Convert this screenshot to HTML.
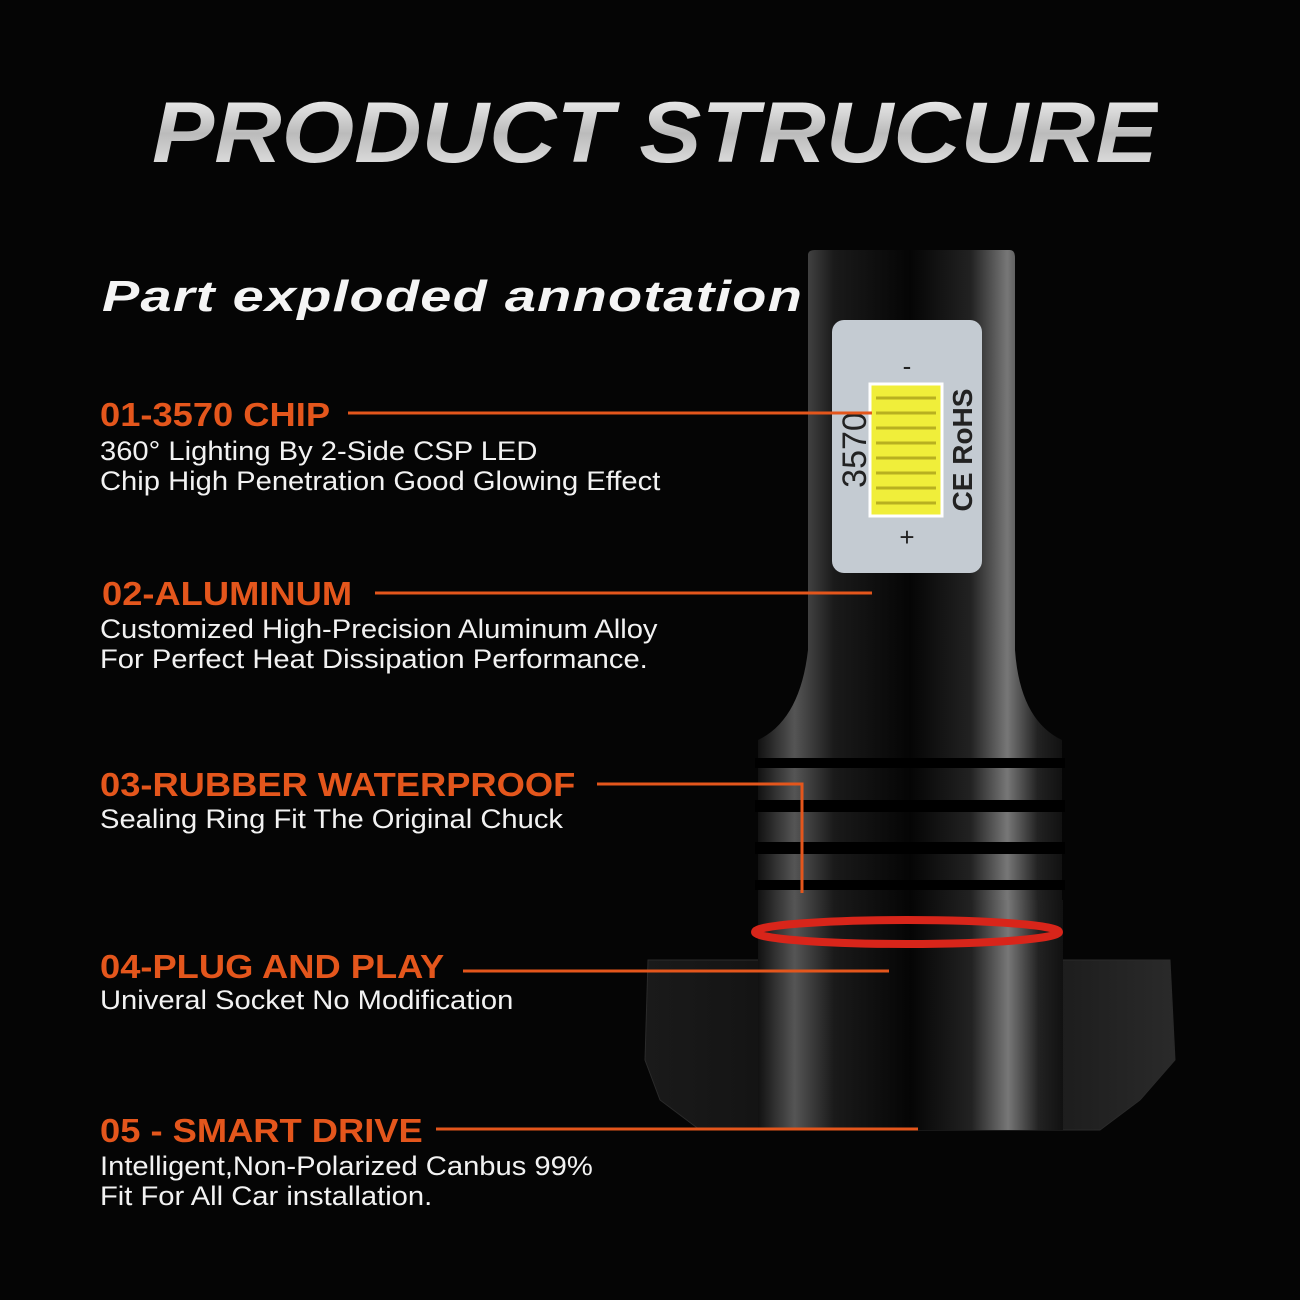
<!DOCTYPE html>
<html><head><meta charset="utf-8"><style>
html,body{margin:0;padding:0;background:#050505;}
body{width:1300px;height:1300px;overflow:hidden;position:relative;font-family:"Liberation Sans",sans-serif;}
.t{position:absolute;white-space:nowrap;transform-origin:left;}
.title{left:152px;top:84px;font-size:86px;font-weight:900;font-style:italic;color:#d8d8d8;letter-spacing:0px;transform:scaleX(1.085);background:linear-gradient(#ffffff,#bbbbbb 50%,#f0f0f0);-webkit-background-clip:text;background-clip:text;-webkit-text-fill-color:transparent;}
.sub{left:102px;top:272px;font-size:44px;font-weight:900;font-style:italic;color:#f4f4f4;transform:scaleX(1.27);letter-spacing:1px;}
.h{color:#e4561c;font-weight:bold;font-size:33px;left:100px;transform:scaleX(1.1);}
.d{color:#f2f2f2;font-size:27px;left:100px;line-height:30px;transform:scaleX(1.08);}
</style></head><body>
<svg width="1300" height="1300" style="position:absolute;left:0;top:0">
<defs>
<linearGradient id="m" x1="0" x2="1">
<stop offset="0" stop-color="#111"/><stop offset=".12" stop-color="#555"/><stop offset=".25" stop-color="#1a1a1a"/><stop offset=".5" stop-color="#050505"/><stop offset=".7" stop-color="#222"/><stop offset=".82" stop-color="#777"/><stop offset=".92" stop-color="#222"/><stop offset="1" stop-color="#111"/>
</linearGradient>
<linearGradient id="b" x1="0" x2="1">
<stop offset="0" stop-color="#1a1a1a"/><stop offset=".5" stop-color="#0c0c0c"/><stop offset="1" stop-color="#2a2a2a"/>
</linearGradient>
</defs>
<path d="M648 960 L1170 960 L1175 1060 L1140 1100 L1100 1130 L700 1130 L660 1100 L645 1060 Z" fill="url(#b)" stroke="#2a2a2a"/>
<rect x="758" y="900" width="305" height="230" fill="url(#m)"/>
<path d="M808 255 Q808 250 815 250 L1010 250 Q1015 250 1015 258 L1015 650 Q1020 720 1062 740 L1062 900 L758 900 L758 740 Q800 720 808 650 Z" fill="url(#m)"/>
<g fill="#000">
<rect x="755" y="758" width="310" height="10"/>
<rect x="755" y="800" width="310" height="12"/>
<rect x="755" y="842" width="310" height="12"/>
<rect x="755" y="880" width="310" height="10"/>
</g>
<ellipse cx="907" cy="932" rx="152" ry="12" fill="none" stroke="#d8251a" stroke-width="8"/>
<rect x="832" y="320" width="150" height="253" rx="12" fill="#c4cbd2"/>
<rect x="870" y="384" width="72" height="132" fill="#f0ee3a" stroke="#fff" stroke-width="3"/>
<g stroke="#b8b020" stroke-width="3">
<line x1="876" y1="398" x2="936" y2="398"/><line x1="876" y1="413" x2="936" y2="413"/><line x1="876" y1="428" x2="936" y2="428"/><line x1="876" y1="443" x2="936" y2="443"/><line x1="876" y1="458" x2="936" y2="458"/><line x1="876" y1="473" x2="936" y2="473"/><line x1="876" y1="488" x2="936" y2="488"/><line x1="876" y1="503" x2="936" y2="503"/>
</g>
<text transform="translate(866,450) rotate(-90)" text-anchor="middle" font-family="Liberation Sans" font-size="34" fill="#222">3570</text>
<text transform="translate(972,450) rotate(-90)" text-anchor="middle" font-family="Liberation Sans" font-size="28" font-weight="bold" fill="#222">CE RoHS</text>
<text x="907" y="375" text-anchor="middle" font-size="26" fill="#222">-</text>
<text x="907" y="546" text-anchor="middle" font-size="26" fill="#222">+</text>
<g stroke="#e4561c" stroke-width="3" fill="none">
<line x1="348" y1="413" x2="872" y2="413"/>
<line x1="375" y1="593" x2="872" y2="593"/>
<polyline points="597,784 802,784 802,893"/>
<line x1="463" y1="971" x2="889" y2="971"/>
<line x1="436" y1="1129" x2="918" y2="1129"/>
</g>
</svg>
<div class="t title">PRODUCT STRUCURE</div>
<div class="t sub">Part exploded annotation</div>
<div class="t h" style="top:396px">01-3570 CHIP</div>
<div class="t d" style="top:436px">360° Lighting By 2-Side CSP LED<br>Chip High Penetration Good Glowing Effect</div>
<div class="t h" style="top:575px;left:102px">02-ALUMINUM</div>
<div class="t d" style="top:614px">Customized High-Precision Aluminum Alloy<br>For Perfect Heat Dissipation Performance.</div>
<div class="t h" style="top:766px">03-RUBBER WATERPROOF</div>
<div class="t d" style="top:804px">Sealing Ring Fit The Original Chuck</div>
<div class="t h" style="top:948px">04-PLUG AND PLAY</div>
<div class="t d" style="top:985px">Univeral Socket No Modification</div>
<div class="t h" style="top:1112px">05 - SMART DRIVE</div>
<div class="t d" style="top:1151px">Intelligent,Non-Polarized Canbus 99%<br>Fit For All Car installation.</div>
</body></html>
